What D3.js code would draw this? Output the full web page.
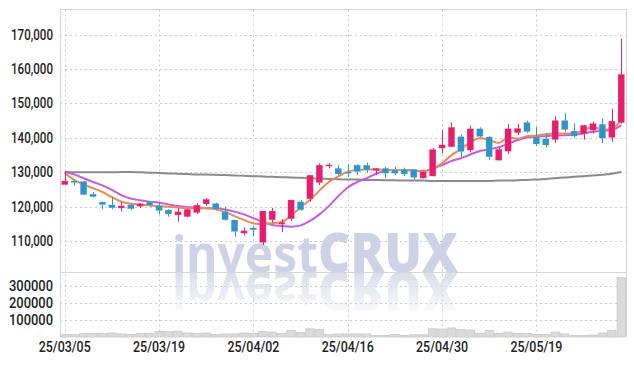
<!DOCTYPE html>
<html>
<head>
<meta charset="utf-8">
<script src="https://cdn.jsdelivr.net/npm/d3@7"></script>
<style>
  body { margin: 0; background: #fff; }
  svg { display: block; }
  .axis text { font-family: Roboto, 'Noto Sans', sans-serif; font-weight: 500; font-size: 14px; fill: #222; }
  .axis path, .axis line { display: none; }
</style>
</head>
<body>
<svg width="634" height="366"></svg>
<script>
// trading days, 2025
var dates = [
  '25/03/05', '25/03/06', '25/03/07', '25/03/10', '25/03/11', '25/03/12', '25/03/13', '25/03/14', '25/03/17', '25/03/18',
  '25/03/19', '25/03/20', '25/03/21', '25/03/24', '25/03/25', '25/03/26', '25/03/27', '25/03/28', '25/03/31', '25/04/01',
  '25/04/02', '25/04/03', '25/04/04', '25/04/07', '25/04/08', '25/04/09', '25/04/10', '25/04/11', '25/04/14', '25/04/15',
  '25/04/16', '25/04/17', '25/04/18', '25/04/21', '25/04/22', '25/04/23', '25/04/24', '25/04/25', '25/04/28', '25/04/29',
  '25/04/30', '25/05/02', '25/05/07', '25/05/08', '25/05/09', '25/05/12', '25/05/13', '25/05/14', '25/05/15', '25/05/16',
  '25/05/19', '25/05/20', '25/05/21', '25/05/22', '25/05/23', '25/05/26', '25/05/27', '25/05/28', '25/05/29', '25/05/30'
];

var open = [
  126400, 127500, 127400, 123700, 121400, 120600, 119600, 120600, 120100, 121400,
  120300, 119100, 117600, 117100, 118300, 120800, 121000, 118600, 116200, 112300,
  113900, 109600, 116200, 114900, 116500, 121500, 122300, 127000, 131900, 131200,
  130100, 132100, 132100, 130500, 131200, 130700, 130900, 130900, 128300, 128900,
  137000, 137400, 140400, 136400, 142700, 140300, 133500, 136100, 141500, 144500,
  140300, 139800, 139500, 145100, 142000, 141100, 142200, 144000, 140100, 144400
];
var high = [
  130100, 128000, 127500, 124300, 121500, 122900, 121400, 121000, 121100, 121700,
  121300, 119300, 119600, 119500, 121000, 122600, 121200, 120000, 116200, 114000,
  114400, 118800, 119700, 116400, 122000, 121900, 129200, 132600, 132600, 132100,
  132500, 132400, 132800, 131200, 131600, 131600, 131400, 130900, 130200, 137100,
  142300, 144500, 141000, 143600, 143100, 140500, 137100, 144000, 144100, 145000,
  143200, 141400, 146300, 147300, 144200, 143700, 144700, 145600, 148500, 168800
];
var low = [
  126400, 126200, 123400, 122700, 119400, 119300, 118700, 119000, 119600, 120100,
  117900, 117100, 115700, 116900, 117900, 120300, 119000, 116000, 111300, 111700,
  111500, 108900, 115400, 112600, 115800, 118800, 121500, 126300, 131200, 129100,
  128700, 129200, 129900, 129200, 128300, 129200, 128900, 128000, 128200, 128800,
  135500, 137300, 134500, 135900, 140100, 133700, 133400, 135300, 140800, 141500,
  137600, 137300, 138600, 141800, 140100, 139500, 141300, 138500, 138900, 144200
];
var close = [
  127500, 127000, 123500, 122900, 120600, 119700, 120300, 119400, 120900, 120400,
  118900, 117900, 118600, 119300, 120500, 122200, 119300, 116200, 112800, 113100,
  113300, 118800, 118800, 115500, 122000, 119100, 129200, 132100, 132200, 129500,
  129700, 130200, 130700, 131200, 129700, 129700, 129500, 128500, 130200, 136700,
  138000, 143100, 136000, 142700, 140400, 134500, 136700, 142700, 142800, 141800,
  138200, 137900, 145100, 142400, 140500, 143700, 144200, 139900, 144900, 158500
];
var volume = [
  14700, 14700, 20000, 20000, 20000, 23500, 18200, 14700, 20000, 20000,
  32400, 30600, 34100, 23500, 20000, 23500, 14700, 18200, 18200, 23500,
  20000, 32400, 28800, 20000, 37600, 25300, 48200, 44700, 14700, 18200,
  18200, 18200, 18200, 9400, 9400, 14700, 9400, 12900, 12900, 48200,
  46500, 53500, 44700, 41200, 20000, 37600, 20000, 28800, 20000, 20000,
  14700, 14700, 28800, 18200, 9400, 9400, 11200, 23500, 39400, 350000
];

// moving averages as drawn
var maShort = [
  129800, 127800, 126500, 125400, 124300, 122800, 121500, 120900, 120700, 120400,
  120200, 120000, 119800, 119600, 119600, 119600, 119300, 118500, 117300, 116200,
  115200, 115000, 115200, 115600, 117500, 119800, 122000, 124700, 127200, 128800,
  130200, 130700, 130800, 130800, 130700, 130700, 130700, 130500, 130200, 131200,
  132600, 135000, 136700, 138800, 139900, 139400, 138500, 140100, 139800, 140500,
  140700, 141100, 141300, 141300, 141300, 142300, 143200, 142400, 142700, 145200
];
var maMid = [
  130100, 129400, 128300, 127200, 126200, 124900, 123400, 122400, 121900, 121500,
  121200, 120700, 120200, 119900, 119800, 119600, 119600, 119200, 118600, 117800,
  116700, 115600, 114700, 114400, 114200, 114600, 115900, 117800, 120200, 123100,
  125600, 127200, 128300, 129600, 130500, 130700, 130700, 130500, 130400, 131100,
  132100, 133300, 134100, 135200, 136200, 136700, 137300, 138300, 139400, 140100,
  140400, 140500, 140700, 140800, 141000, 141300, 141800, 142100, 142300, 143700
];
var maLong = [
  130100, 130000, 130000, 130000, 130000, 130000, 130100, 130100, 130000, 129900,
  129800, 129700, 129600, 129500, 129400, 129400, 129300, 129200, 129100, 129000,
  128900, 128800, 128700, 128600, 128500, 128400, 128300, 128200, 128100, 128000,
  127900, 127900, 127800, 127800, 127700, 127700, 127600, 127600, 127600, 127500,
  127500, 127500, 127500, 127500, 127500, 127500, 127600, 127600, 127700, 127800,
  127900, 128100, 128300, 128500, 128700, 128900, 129100, 129300, 129600, 130100
];

var priceTicks = [110000, 120000, 130000, 140000, 150000, 160000, 170000];
var volumeTicks = [100000, 200000, 300000];
var dateTicks = [0, 10, 20, 30, 40, 50];

var plotLeft = 60, plotRight = 626, plotTop = 9.5, split = 272, plotBottom = 337;
var upColor = '#e61f6c', downColor = '#2f95c8';

var svg = d3.select('svg');
var idx = d3.range(dates.length);

var x = d3.scaleBand().domain(idx).range([plotLeft, plotRight]).paddingInner(0.3).paddingOuter(0.15);
var xv = d3.scaleBand().domain(idx).range([plotLeft, plotRight]).padding(0);
var cx = function(i) { return xv(i) + xv.bandwidth() / 2; };
var y = d3.scaleLinear().domain([101060, 177300]).range([split, plotTop]);
var yv = d3.scaleLinear().domain([0, 382000]).range([plotBottom, split]);

// grid
var grid = svg.append('g').attr('stroke', '#c8c9dc').attr('stroke-dasharray', '2,3');
grid.selectAll('.hp').data(priceTicks).enter().append('line')
  .attr('x1', plotLeft).attr('x2', plotRight)
  .attr('y1', function(d) { return Math.round(y(d)) + 0.5; })
  .attr('y2', function(d) { return Math.round(y(d)) + 0.5; });
grid.selectAll('.hv').data(volumeTicks).enter().append('line')
  .attr('x1', plotLeft).attr('x2', plotRight)
  .attr('y1', function(d) { return Math.round(yv(d)) + 0.5; })
  .attr('y2', function(d) { return Math.round(yv(d)) + 0.5; });
grid.selectAll('.v').data(dateTicks).enter().append('line')
  .attr('y1', plotTop).attr('y2', plotBottom)
  .attr('x1', function(d) { return Math.round(cx(d)) + 0.5; })
  .attr('x2', function(d) { return Math.round(cx(d)) + 0.5; });

// watermark + faded reflection
var mark = function(g) {
  g.append('text').attr('x', 172).attr('y', split)
    .attr('textLength', 146).attr('lengthAdjust', 'spacingAndGlyphs')
    .style('font', 'bold 50px "Noto Sans", sans-serif').text('invest');
  g.append('text').attr('x', 318).attr('y', split)
    .attr('textLength', 140).attr('lengthAdjust', 'spacingAndGlyphs')
    .style('font', '900 55px "Noto Sans", sans-serif').text('CRUX');
};
var defs = svg.append('defs');
defs.append('clipPath').attr('id', 'high').append('rect')
  .attr('x', plotLeft).attr('y', plotTop).attr('width', plotRight - plotLeft).attr('height', split - plotTop);
var fade = defs.append('linearGradient').attr('id', 'fade')
  .attr('gradientUnits', 'userSpaceOnUse').attr('x1', 0).attr('y1', split).attr('x2', 0).attr('y2', 318);
fade.append('stop').attr('offset', '0%').attr('stop-color', '#fff').attr('stop-opacity', 1);
fade.append('stop').attr('offset', '100%').attr('stop-color', '#fff').attr('stop-opacity', 0);
defs.append('mask').attr('id', 'reflect').attr('maskUnits', 'userSpaceOnUse')
  .attr('x', plotLeft).attr('y', split).attr('width', plotRight - plotLeft).attr('height', plotBottom - split)
  .append('rect').attr('x', plotLeft).attr('y', split).attr('width', plotRight - plotLeft).attr('height', plotBottom - split)
  .attr('fill', 'url(#fade)');
mark(svg.append('g').attr('clip-path', 'url(#high)').attr('fill', '#cdd2e6'));
mark(svg.append('g').attr('mask', 'url(#reflect)').append('g')
  .attr('transform', 'translate(0,' + (2 * split) + ') scale(1,-1)').attr('fill', '#d9dde9'));

// frame
svg.append('path').attr('fill', 'none').attr('stroke', '#d6d6d6')
  .attr('d', 'M' + (plotLeft + 0.5) + ',' + plotBottom + 'V' + plotTop + 'H' + (plotRight + 0.5) + 'V' + plotBottom);
svg.append('line').attr('stroke', '#d6d6d6').attr('x1', plotLeft).attr('x2', plotRight + 0.5)
  .attr('y1', split + 0.5).attr('y2', split + 0.5);

// volume
svg.append('g').selectAll('rect').data(idx).enter().append('rect')
  .attr('x', function(i) { return xv(i) + 0.5; })
  .attr('width', xv.bandwidth() - 1)
  .attr('y', function(i) { return yv(volume[i]); })
  .attr('height', function(i) { return plotBottom - yv(volume[i]); })
  .attr('fill', '#dadada').attr('stroke', '#c9c9c9').attr('stroke-width', 0.8);

// moving averages
var line = function(values) {
  return d3.line().x(function(i) { return cx(i); }).y(function(i) { return y(values[i]); }).curve(d3.curveMonotoneX)(idx);
};
[[maLong, '#8a8a8a'], [maMid, '#c859e2'], [maShort, '#ee8a4e']].forEach(function(s) {
  svg.append('path').attr('d', line(s[0])).attr('fill', 'none').attr('stroke', s[1]).attr('stroke-width', 2);
});

// candles
var candle = svg.append('g').selectAll('g').data(idx).enter().append('g')
  .attr('fill', function(i) { return close[i] >= open[i] ? upColor : downColor; })
  .attr('stroke', function(i) { return close[i] >= open[i] ? upColor : downColor; });
candle.append('line')
  .attr('x1', function(i) { return Math.round(cx(i)) + 0.5; })
  .attr('x2', function(i) { return Math.round(cx(i)) + 0.5; })
  .attr('y1', function(i) { return y(high[i]); })
  .attr('y2', function(i) { return y(low[i]); })
  .attr('stroke-width', 1);
candle.append('rect')
  .attr('x', function(i) { return cx(i) - x.bandwidth() / 2; })
  .attr('width', x.bandwidth())
  .attr('y', function(i) { return y(Math.max(open[i], close[i])); })
  .attr('height', function(i) { return Math.max(1.5, Math.abs(y(open[i]) - y(close[i]))); })
  .attr('stroke-width', 0.6).attr('stroke', '#fff').attr('stroke-opacity', 0.25);

// axes (condensed look via textLength)
svg.append('g').attr('class', 'axis').attr('transform', 'translate(' + plotLeft + ',0)')
  .call(d3.axisLeft(y).tickValues(priceTicks).tickSize(0).tickPadding(7).tickFormat(d3.format(',')))
  .selectAll('text').attr('textLength', 42).attr('lengthAdjust', 'spacingAndGlyphs');
svg.append('g').attr('class', 'axis').attr('transform', 'translate(' + plotLeft + ',0)')
  .call(d3.axisLeft(yv).tickValues(volumeTicks).tickSize(0).tickPadding(7).tickFormat(d3.format('d')))
  .selectAll('text').attr('textLength', 44).attr('lengthAdjust', 'spacingAndGlyphs');
svg.append('g').attr('class', 'axis').attr('transform', 'translate(0,' + plotBottom + ')')
  .call(d3.axisBottom(xv).tickValues(dateTicks).tickSize(0).tickPadding(5).tickFormat(function(i) { return dates[i]; }))
  .selectAll('text').attr('textLength', 52).attr('lengthAdjust', 'spacingAndGlyphs');
</script>
</body>
</html>
